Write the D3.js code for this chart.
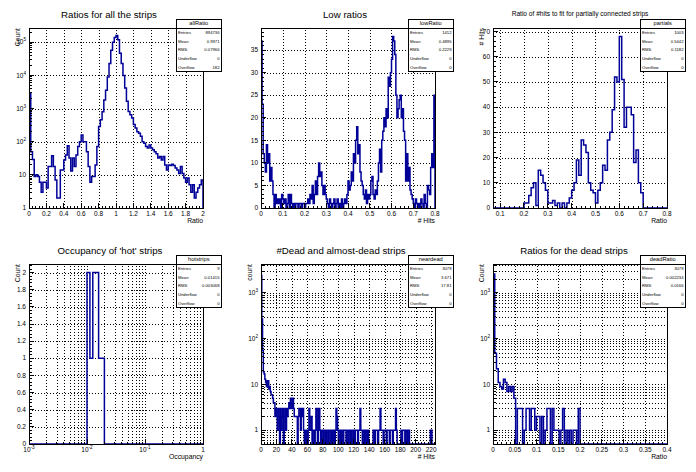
<!DOCTYPE html>
<html>
<head>
<meta charset="utf-8">
<script src="https://cdn.jsdelivr.net/npm/d3@7"></script>
<style>
  body { margin: 0; background: #fff; }
  svg { display: block; }
  text { font-family: "Liberation Sans", Arial, Helvetica, sans-serif; fill: #000; }
</style>
</head>
<body>
<svg id="canvas" width="696" height="472"></svg>
<script>
// ---- histogram contents ----

// allRatio: 100 bins, 0 - 2
const allRatioCounts = [
  3000, 50, 29, 9, 10, 9, 6, 3, 6, 6,
  4, 18, 18, 38, 18, 7, 2, 2, 14, 14,
  28, 40, 75, 32, 13, 32, 18, 40, 72, 100,
  160, 100, 100, 50, 18, 6, 9, 9, 20, 72,
  290, 460, 800, 1800, 3600, 9000, 23000, 58000, 100000, 140000,
  160000, 120000, 47000, 23000, 10000, 4200, 1650, 820, 650, 520,
  330, 260, 200, 180, 145, 100, 90, 72, 65, 80,
  65, 57, 50, 43, 32, 36, 28, 36, 20, 14,
  20, 19, 21, 19, 16, 14, 11, 18, 11, 8,
  6, 8, 5, 3, 5, 2, 3, 4, 5, 7
];

// lowRatio: 160 bins, 0 - 0.8
const lowRatioCounts = [
  37, 23, 12, 10, 8, 14, 10, 12, 6, 9,
  6, 3, 0, 3, 1, 2, 1, 2, 0, 3,
  2, 1, 2, 0, 1, 3, 0, 3, 1, 0,
  1, 0, 1, 1, 0, 1, 1, 0, 1, 1,
  0, 1, 1, 2, 1, 3, 2, 5, 1, 3,
  6, 3, 7, 10, 7, 8, 5, 3, 5, 3,
  2, 1, 0, 2, 1, 0, 1, 2, 0, 1,
  2, 0, 1, 0, 2, 0, 1, 2, 1, 3,
  6, 4, 5, 8, 6, 12, 10, 15, 18, 12,
  14, 8, 6, 5, 3, 2, 4, 1, 3, 2,
  3, 6, 7, 3, 2, 4, 3, 6, 10, 13,
  8, 15, 17, 20, 18, 22, 20, 29, 27, 30,
  33, 38, 37, 34, 25, 20, 22, 24, 25, 20,
  22, 17, 15, 6, 12, 6, 9, 4, 3, 2,
  1, 0, 2, 1, 0, 1, 0, 2, 1, 0,
  3, 1, 0, 5, 4, 3, 9, 12, 9, 25
];

// partials: 73 bins, 0.07 - 0.8
const partialsCounts = [
  0, 0, 0, 0, 0, 0, 0, 0, 0, 0, 0, 0, 0,
  2, 2, 5, 8, 10, 1, 15, 13, 10, 7,
  2, 2, 3, 1, 2, 0, 2, 0, 2, 4,
  7, 10, 19, 13, 27, 25, 22, 10, 7, 6,
  2, 7, 10, 17, 15, 27, 30, 39, 52, 50,
  68, 51, 32, 40, 40, 37, 18, 23, 10, 6,
  0, 0, 0, 0, 0, 0, 0, 0, 0, 0
];

// hotstrips: 60 log bins, 1e-3 - 1
const hotCounts = [
  0, 0, 0, 0, 0, 0, 0, 0, 0, 0,
  0, 0, 0, 0, 0, 0, 0, 0, 0, 0,
  2, 1, 2, 2, 1, 1, 0, 0, 0, 0,
  0, 0, 0, 0, 0, 0, 0, 0, 0, 0,
  0, 0, 0, 0, 0, 0, 0, 0, 0, 0,
  0, 0, 0, 0, 0, 0, 0, 0, 0, 0
];

// neardead: 225 bins, 0 - 225
const nearDeadCounts = [
  2400, 270, 55, 19, 17, 13, 11, 9, 12, 12,
  8, 9, 7, 6, 6, 5, 4, 4, 2, 3,
  2, 1, 3, 2, 0, 3, 1, 2, 3, 0,
  2, 3, 1, 3, 2, 3, 4, 3, 5, 4,
  3, 5, 3, 2, 2, 2, 2, 0, 2, 3,
  3, 1, 3, 2, 3, 1, 0, 1, 0, 1,
  0, 1, 3, 1, 1, 2, 0, 1, 1, 0,
  1, 3, 1, 0, 3, 3, 1, 0, 1, 1,
  0, 1, 1, 0, 1, 0, 0, 1, 1, 0,
  0, 1, 0, 1, 1, 0, 1, 3, 2, 1,
  0, 1, 1, 0, 1, 1, 0, 1, 1, 1,
  0, 1, 1, 0, 1, 1, 0, 1, 1, 0,
  1, 0, 1, 1, 1, 0, 1, 1, 3, 1,
  1, 0, 1, 1, 0, 1, 1, 0, 1, 0,
  0, 0, 0, 0, 0, 1, 1, 0, 1, 1,
  1, 0, 1, 1, 3, 1, 1, 1, 0, 1,
  1, 1, 0, 1, 1, 1, 0, 1, 1, 1,
  0, 1, 1, 1, 3, 1, 0, 0, 0, 0,
  0, 1, 0, 1, 1, 1, 0, 1, 1, 0,
  1, 1, 0, 0, 0, 0, 0, 0, 0, 0,
  0, 0, 0, 0, 0, 0, 0, 0, 0, 0,
  0, 0, 0, 0, 0, 0, 0, 0, 0, 1,
  1, 0, 0, 0, 0
];

// deadRatio: 100 bins, 0 - 0.4
const deadRatioCounts = [
  2600, 48, 22, 11, 9, 8, 13, 11, 7, 9,
  7, 9, 5, 0, 3, 3, 3, 0, 1, 3,
  3, 1, 3, 3, 1, 2, 2, 0, 2, 0,
  1, 3, 3, 0, 3, 1, 1, 1, 0, 1,
  3, 0, 1, 0, 1, 0, 1, 1, 0, 3,
  0, 0, 0, 0, 0, 0, 0, 0, 0, 0,
  0, 0, 0, 0, 0, 0, 0, 0, 0, 0,
  0, 0, 0, 0, 0, 0, 0, 0, 0, 0,
  0, 0, 0, 0, 0, 0, 0, 0, 0, 0,
  0, 0, 0, 0, 0, 0, 0, 0, 0, 0
];

// stats boxes
const statLabels = ["Entries", "Mean", "RMS", "Underflow", "Overflow"];
const allRatioStats = ["894736", "0.9971", "0.07966", "0", "182"];
const lowRatioStats = ["1412", "0.4895", "0.2229", "0", "0"];
const partialsStats = ["1003", "0.5442", "0.1182", "0", "0"];
const hotStats = ["9", "0.01415", "0.003068", "0", "0"];
const nearDeadStats = ["3079", "3.671", "17.81", "0", "0"];
const deadRatioStats = ["3079", "0.002234", "0.0166", "0", "0"];

// axis ticks
const ratioTicks = [0, 0.2, 0.4, 0.6, 0.8, 1, 1.2, 1.4, 1.6, 1.8, 2];
const lowRatioXTicks = [0, 0.1, 0.2, 0.3, 0.4, 0.5, 0.6, 0.7, 0.8];
const partialsXTicks = [0.1, 0.2, 0.3, 0.4, 0.5, 0.6, 0.7, 0.8];
const occupancyTicks = [0.001, 0.01, 0.1, 1];
const hitsTicks = [0, 20, 40, 60, 80, 100, 120, 140, 160, 180, 200, 220];
const deadRatioXTicks = [0, 0.05, 0.1, 0.15, 0.2, 0.25, 0.3, 0.35, 0.4];
const count5Ticks = [1, 10, 100, 1000, 10000, 100000];
const count3Ticks = [1, 10, 100, 1000];
const lowRatioYTicks = [0, 5, 10, 15, 20, 25, 30, 35];
const partialsYTicks = [0, 10, 20, 30, 40, 50, 60, 70];
const hotYTicks = [0, 0.2, 0.4, 0.6, 0.8, 1, 1.2, 1.4, 1.6, 1.8, 2];

// ---- layout ----
const padW = 232, padH = 236;
const frame = { l: 29, r: 203, t: 28, b: 208 };
const sbox = { x1: 176.5, x2: 221, y1: 19, y2: 71.5, head: 28 };
const lineColor = "#000099";

const pads = [
  { col: 0, row: 0, title: "Ratios for all the strips", titleX: 109, titleSize: 9.7, titleY: 17.5,
    name: "allRatio", stats: allRatioStats, counts: allRatioCounts,
    edge: i => i * 0.02, xDomain: [0, 2], xTicks: ratioTicks, xMinor: 5, xTitle: "Ratio",
    yLog: true, yDomain: [1, 2.7e5], yTicks: count5Ticks, yTitle: "Count" },
  { col: 1, row: 0, title: "Low ratios", titleX: 113, titleSize: 9.7, titleY: 17.5,
    name: "lowRatio", stats: lowRatioStats, counts: lowRatioCounts,
    edge: i => i * 0.005, xDomain: [0, 0.8], xTicks: lowRatioXTicks, xMinor: 5, xTitle: "# Hits",
    yDomain: [0, 39.9], yTicks: lowRatioYTicks, yMinor: 5, yTitle: "" },
  { col: 2, row: 0, title: "Ratio of #hits to fit for partially connected strips", titleX: 116, titleSize: 6.6, titleY: 16.3,
    name: "partials", stats: partialsStats, counts: partialsCounts,
    edge: i => 0.07 + i * 0.01, xDomain: [0.07, 0.8], xTicks: partialsXTicks, xMinor: 5, xTitle: "Ratio",
    yDomain: [0, 71.4], yTicks: partialsYTicks, yMinor: 5, yTitle: "# Hits" },
  { col: 0, row: 1, title: "Occupancy of 'hot' strips", titleX: 110, titleSize: 9.7, titleY: 17.5,
    name: "hotstrips", stats: hotStats, counts: hotCounts,
    edge: i => Math.pow(10, -3 + i * 0.05), xLog: true, xDenseGrid: true, xDomain: [0.001, 1], xTicks: occupancyTicks, xTitle: "Occupancy",
    yDomain: [0, 2.1], yTicks: hotYTicks, yMinor: 5, yTitle: "Count" },
  { col: 1, row: 1, title: "#Dead and almost-dead strips", titleX: 109, titleSize: 9.7, titleY: 17.5,
    name: "neardead", stats: nearDeadStats, counts: nearDeadCounts,
    edge: i => i, xDomain: [0, 225], xTicks: hitsTicks, xMinor: 5, xTitle: "# Hits",
    yLog: true, yDenseGrid: true, yDomain: [0.5, 4300], yTicks: count3Ticks, yTitle: "count" },
  { col: 2, row: 1, title: "Ratios for the dead strips", titleX: 110, titleSize: 9.7, titleY: 17.5,
    name: "deadRatio", stats: deadRatioStats, counts: deadRatioCounts,
    edge: i => i * 0.004, xDomain: [0, 0.4], xTicks: deadRatioXTicks, xMinor: 5, xTitle: "Ratio",
    yLog: true, yDenseGrid: true, yDomain: [0.5, 4300], yTicks: count3Ticks, yTitle: "Count" }
];

const svg = d3.select("#canvas");
svg.append("rect").attr("width", 696).attr("height", 472).attr("fill", "#fff");

function linearMinor(domain, ticks, n) {
  const step = (ticks[1] - ticks[0]) / n;
  const out = [];
  for (let k = Math.ceil(domain[0] / step - 1e-6); k * step <= domain[1] + 1e-9; k++) {
    const v = k * step;
    if (!ticks.some(t => Math.abs(t - v) < step / 10)) out.push(v);
  }
  return out;
}

function logMinor(domain) {
  const out = [];
  for (let k = Math.floor(Math.log10(domain[0])); k <= Math.ceil(Math.log10(domain[1])); k++) {
    for (let m = 2; m <= 9; m++) {
      const v = m * Math.pow(10, k);
      if (v >= domain[0] * 0.999 && v <= domain[1]) out.push(v);
    }
  }
  return out;
}

function tickLabel(sel, v, isLog) {
  if (!isLog) { sel.text(String(v)); return; }
  const e = Math.round(Math.log10(v));
  if (e === 0) sel.text("1");
  else if (e === 1) sel.text("10");
  else {
    sel.append("tspan").text("10");
    sel.append("tspan").attr("dy", -3).attr("font-size", 4.6).text(e);
  }
}

pads.forEach((p, idx) => {
  const g = svg.append("g").attr("transform", `translate(${p.col * padW},${p.row * padH})`);
  const x = (p.xLog ? d3.scaleLog() : d3.scaleLinear()).domain(p.xDomain).range([frame.l, frame.r]);
  const y = (p.yLog ? d3.scaleLog() : d3.scaleLinear()).domain(p.yDomain).range([frame.b, frame.t]);

  const xMinorTicks = p.xLog ? logMinor(p.xDomain) : linearMinor(p.xDomain, p.xTicks, p.xMinor);
  const yMinorTicks = p.yLog ? logMinor(p.yDomain) : linearMinor(p.yDomain, p.yTicks, p.yMinor);

  // grid
  const grid = g.append("g").attr("stroke", "#000").attr("stroke-width", 1)
    .attr("stroke-dasharray", "1,2").attr("shape-rendering", "crispEdges");
  const xGrid = p.xDenseGrid ? p.xTicks.concat(xMinorTicks) : p.xTicks;
  const yGrid = p.yDenseGrid ? p.yTicks.concat(yMinorTicks) : p.yTicks;
  grid.selectAll(".gx").data(xGrid).join("line")
    .attr("x1", d => Math.round(x(d)) + 0.5).attr("x2", d => Math.round(x(d)) + 0.5)
    .attr("y1", frame.b).attr("y2", frame.t);
  grid.selectAll(".gy").data(yGrid).join("line")
    .attr("y1", d => Math.round(y(d)) + 0.5).attr("y2", d => Math.round(y(d)) + 0.5)
    .attr("x1", frame.l).attr("x2", frame.r);

  // histogram outline
  const clipId = "clip" + idx;
  g.append("clipPath").attr("id", clipId).append("rect")
    .attr("x", frame.l).attr("y", frame.t - 1).attr("width", frame.r - frame.l).attr("height", frame.b - frame.t + 1);
  const yMin = p.yDomain[0];
  const yv = c => y(Math.max(c, yMin));
  const pts = [[x(p.edge(0)), y(yMin)]];
  p.counts.forEach((c, i) => {
    pts.push([x(p.edge(i)), yv(c)]);
    pts.push([x(p.edge(i + 1)), yv(c)]);
  });
  pts.push([x(p.edge(p.counts.length)), y(yMin)]);
  g.append("path").attr("clip-path", `url(#${clipId})`)
    .attr("d", d3.line()(pts))
    .attr("fill", "none").attr("stroke", lineColor).attr("stroke-width", 1.5);

  // frame
  g.append("rect").attr("x", frame.l).attr("y", frame.t)
    .attr("width", frame.r - frame.l).attr("height", frame.b - frame.t)
    .attr("fill", "none").attr("stroke", "#000").attr("stroke-width", 1).attr("shape-rendering", "crispEdges");

  // ticks
  const ticks = g.append("g").attr("stroke", "#000").attr("stroke-width", 1).attr("shape-rendering", "crispEdges");
  const xt = p.xTicks.map(v => [v, 5]).concat(xMinorTicks.map(v => [v, 2.5]));
  ticks.selectAll(".tx").data(xt).join("line")
    .attr("x1", d => x(d[0])).attr("x2", d => x(d[0]))
    .attr("y1", frame.b).attr("y2", d => frame.b - d[1]);
  const yt = p.yTicks.map(v => [v, 5]).concat(yMinorTicks.map(v => [v, 2.5]));
  ticks.selectAll(".ty").data(yt).join("line")
    .attr("y1", d => y(d[0])).attr("y2", d => y(d[0]))
    .attr("x1", frame.l).attr("x2", d => frame.l + d[1]);

  // tick labels
  g.selectAll(".lx").data(p.xTicks).join("text")
    .attr("x", d => x(d)).attr("y", frame.b + 8)
    .attr("text-anchor", "middle").attr("font-size", 6.5)
    .each(function (d) { tickLabel(d3.select(this), d, p.xLog); });
  g.selectAll(".ly").data(p.yTicks).join("text")
    .attr("x", frame.l - 3).attr("y", d => y(d) + 2.2)
    .attr("text-anchor", "end").attr("font-size", 6.5)
    .each(function (d) { tickLabel(d3.select(this), d, p.yLog); });

  // axis titles
  g.append("text").attr("x", frame.r).attr("y", 223)
    .attr("text-anchor", "end").attr("font-size", 6.8).text(p.xTitle);
  if (p.yTitle) {
    g.append("text").attr("transform", `translate(19.5,${frame.t}) rotate(-90)`)
      .attr("text-anchor", "end").attr("font-size", 6.8).text(p.yTitle);
  }

  // stats box
  const sb = g.append("g");
  sb.append("rect").attr("x", sbox.x1).attr("y", sbox.y1)
    .attr("width", sbox.x2 - sbox.x1).attr("height", sbox.y2 - sbox.y1)
    .attr("fill", "#fff").attr("stroke", "#000").attr("stroke-width", 1).attr("shape-rendering", "crispEdges");
  sb.append("line").attr("x1", sbox.x1).attr("x2", sbox.x2).attr("y1", sbox.head).attr("y2", sbox.head)
    .attr("stroke", "#000").attr("stroke-width", 1).attr("shape-rendering", "crispEdges");
  sb.append("text").attr("x", (sbox.x1 + sbox.x2) / 2).attr("y", sbox.head - 2.6)
    .attr("text-anchor", "middle").attr("font-size", 5.7).text(p.name);
  const rowH = (sbox.y2 - sbox.head) / statLabels.length;
  statLabels.forEach((lab, k) => {
    const cy = sbox.head + rowH * (k + 0.5) + 1.5;
    sb.append("text").attr("x", sbox.x1 + 1.5).attr("y", cy).attr("font-size", 4.2).text(lab);
    sb.append("text").attr("x", sbox.x2 - 1.5).attr("y", cy).attr("text-anchor", "end")
      .attr("font-size", 4.2).text(p.stats[k]);
  });

  // title
  g.append("text").attr("x", p.titleX).attr("y", p.titleY)
    .attr("text-anchor", "middle").attr("font-size", p.titleSize).text(p.title);
});
</script>
</body>
</html>
